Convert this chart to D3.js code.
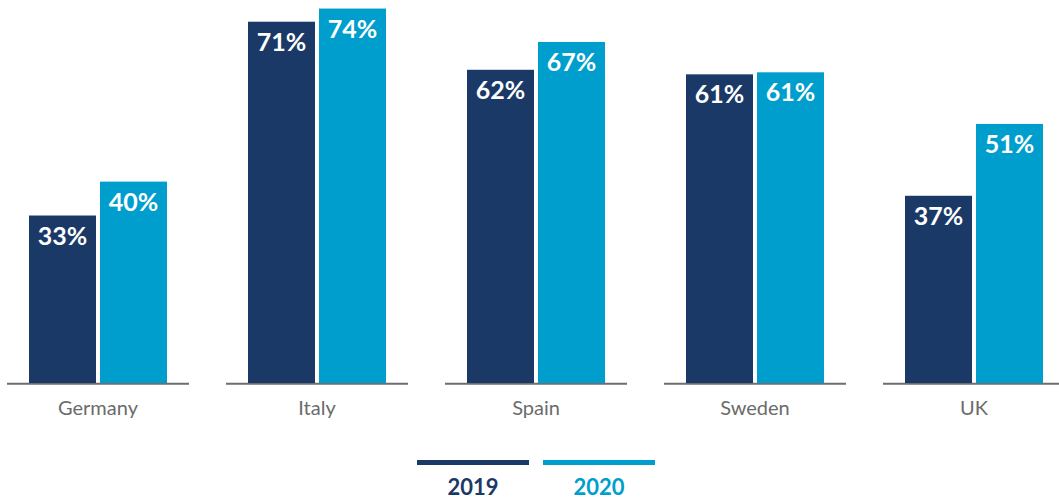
<!DOCTYPE html>
<html><head><meta charset="utf-8">
<script src="https://cdn.jsdelivr.net/npm/d3@7"></script>
<style>
html,body{margin:0;padding:0;background:#fff;}
svg{display:block;}
</style></head>
<body>
<svg id="chart" width="1059" height="500"></svg>
<script>
const categories = ["Germany", "Italy", "Spain", "Sweden", "UK"];
const seriesNames = ["2019", "2020"];
const values2019 = [33.1, 71.4, 61.9, 61.0, 37.0];
const values2020 = [39.8, 74.0, 67.4, 61.4, 51.2];
const colors = ["#1b3966", "#009ecd"];

const svg = d3.select("#chart");
const baseY = 383;
const y = d3.scaleLinear().domain([0, 100]).range([baseY, baseY - 506]);
const x0 = d3.scaleBand().domain(categories).range([7, 7 + 4 * 219 + 182]).paddingInner(37 / 219).paddingOuter(0);
const x1 = d3.scaleBand().domain(seriesNames).range([22, 160]).paddingInner(4 / 71).paddingOuter(0);

const series = [values2019, values2020];

// axis segments
svg.append("g").selectAll("line").data(categories).join("line")
  .attr("x1", d => x0(d)).attr("x2", d => x0(d) + x0.bandwidth())
  .attr("y1", baseY + 0.8).attr("y2", baseY + 0.8)
  .attr("stroke", "#6d6e70").attr("stroke-width", 2);

const groups = svg.append("g").selectAll("g").data(categories).join("g")
  .attr("transform", d => `translate(${x0(d)},0)`);

groups.selectAll("rect").data((d, i) => seriesNames.map((s, j) => ({s, v: series[j][i], j})))
  .join("rect")
  .attr("x", d => x1(d.s)).attr("width", x1.bandwidth())
  .attr("y", d => y(d.v)).attr("height", d => baseY - y(d.v))
  .attr("fill", d => colors[d.j]);

groups.selectAll("text.val").data((d, i) => seriesNames.map((s, j) => ({s, v: series[j][i], j})))
  .join("text").attr("class", "val")
  .attr("x", d => x1(d.s) + x1.bandwidth() / 2)
  .attr("y", d => y(d.v) + 29)
  .attr("text-anchor", "middle")
  .attr("fill", "#fff")
  .attr("font-family", "Lato, sans-serif").attr("font-weight", 700).attr("font-size", 25)
  .text(d => Math.round(d.v) + "%");

// category labels
svg.append("g").selectAll("text").data(categories).join("text")
  .attr("x", d => x0(d) + x0.bandwidth() / 2)
  .attr("y", 414.5)
  .attr("text-anchor", "middle")
  .attr("fill", "#6b6b6b")
  .attr("font-family", "Lato, sans-serif").attr("font-size", 20)
  .text(d => d);

// legend
const legendX = [417, 543];
const leg = svg.append("g").selectAll("g").data(seriesNames).join("g")
  .attr("transform", (d, i) => `translate(${legendX[i]},0)`);
leg.append("rect").attr("x", 0).attr("y", 460).attr("width", 112).attr("height", 5)
  .attr("fill", (d, i) => colors[i]);
leg.append("text").attr("x", 56).attr("y", 495).attr("text-anchor", "middle")
  .attr("fill", (d, i) => colors[i])
  .attr("font-family", "Lato, sans-serif").attr("font-weight", 700).attr("font-size", 22)
  .text(d => d);
</script>
</body></html>
